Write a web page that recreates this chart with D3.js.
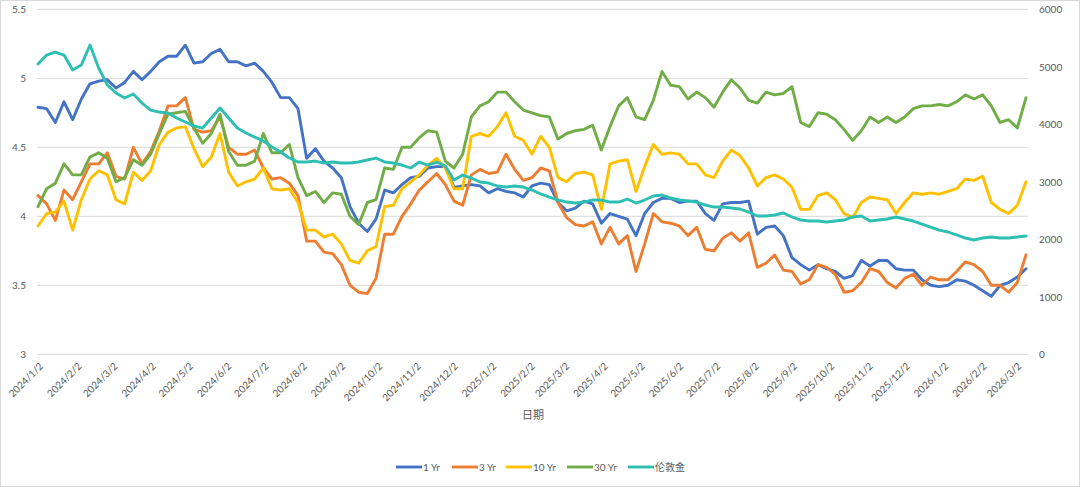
<!DOCTYPE html>
<html><head><meta charset="utf-8">
<script src="https://cdn.jsdelivr.net/npm/d3@7"></script>
<style>
body{margin:0;background:#fff}
svg{display:block}
text{font-family:Lato,"Noto Sans CJK SC",sans-serif;fill:#595959}
</style>
</head><body>
<svg id="c" width="1080" height="487"></svg>
<script>
// ---- data (weekly readings starting 2024-01-02) ----
const startDate = "2024-01-02";
const xTickLabels = ["2024/1/2","2024/2/2","2024/3/2","2024/4/2","2024/5/2","2024/6/2","2024/7/2","2024/8/2","2024/9/2","2024/10/2","2024/11/2","2024/12/2","2025/1/2","2025/2/2","2025/3/2","2025/4/2","2025/5/2","2025/6/2","2025/7/2","2025/8/2","2025/9/2","2025/10/2","2025/11/2","2025/12/2","2026/1/2","2026/2/2","2026/3/2"];
const leftTicks = [3,3.5,4,4.5,5,5.5];
const rightTicks = [0,1000,2000,3000,4000,5000,6000];
const seriesNames = ["1 Yr","3 Yr","10 Yr","30 Yr","伦敦金"];
const seriesColors = ["#4472C4","#ED7D31","#FFC000","#70AD47","#2EBFB3"];
const axisTitle = "日期";

const yr1 = [4.79,4.78,4.68,4.83,4.70,4.85,4.96,4.98,4.99,4.93, 4.97,5.05,4.99,5.05,5.12,5.16,5.16,5.24,5.11,5.12, 5.18,5.21,5.12,5.12,5.09,5.11,5.05,4.97,4.86,4.86, 4.78,4.42,4.49,4.40,4.35,4.28,4.07,3.95,3.89,3.98, 4.19,4.17,4.23,4.28,4.29,4.35,4.36,4.36,4.21,4.22, 4.23,4.22,4.17,4.20,4.18,4.17,4.14,4.22,4.24,4.23, 4.10,4.04,4.06,4.11,4.09,3.95,4.02,4.00,3.98,3.86, 4.02,4.10,4.13,4.13,4.10,4.11,4.11,4.02,3.97,4.09, 4.10,4.10,4.11,3.87,3.92,3.93,3.86,3.70,3.65,3.61, 3.65,3.62,3.60,3.55,3.57,3.68,3.64,3.68,3.68,3.62, 3.61,3.61,3.54,3.50,3.49,3.50,3.54,3.53,3.50,3.46, 3.42,3.50,3.52,3.56,3.62];
const yr3 = [4.15,4.09,3.97,4.19,4.12,4.25,4.38,4.38,4.46,4.29, 4.27,4.50,4.38,4.47,4.62,4.80,4.80,4.86,4.63,4.61, 4.62,4.72,4.50,4.45,4.45,4.48,4.35,4.27,4.28,4.24, 4.15,3.82,3.82,3.74,3.73,3.65,3.50,3.45,3.44,3.55, 3.87,3.87,4.00,4.09,4.19,4.25,4.31,4.23,4.11,4.08, 4.30,4.34,4.31,4.32,4.45,4.34,4.26,4.28,4.35,4.33, 4.10,3.99,3.94,3.93,3.96,3.80,3.92,3.80,3.86,3.60, 3.80,4.02,3.96,3.95,3.93,3.86,3.92,3.76,3.75,3.84, 3.88,3.82,3.88,3.63,3.66,3.72,3.61,3.60,3.51,3.54, 3.65,3.63,3.58,3.45,3.46,3.52,3.62,3.60,3.52,3.48, 3.55,3.58,3.50,3.56,3.54,3.54,3.60,3.67,3.65,3.60, 3.50,3.50,3.45,3.52,3.72];
const yr10 = [3.93,4.02,4.03,4.11,3.90,4.12,4.27,4.33,4.30,4.12, 4.09,4.32,4.26,4.33,4.52,4.61,4.64,4.65,4.49,4.36, 4.43,4.60,4.32,4.22,4.25,4.27,4.35,4.20,4.19,4.20, 4.10,3.90,3.90,3.85,3.87,3.80,3.68,3.66,3.75,3.78, 4.07,4.08,4.20,4.25,4.30,4.37,4.42,4.35,4.20,4.20, 4.58,4.60,4.58,4.65,4.75,4.58,4.55,4.45,4.58,4.50, 4.28,4.25,4.31,4.32,4.30,4.05,4.38,4.40,4.41,4.18, 4.36,4.52,4.45,4.46,4.45,4.38,4.38,4.30,4.28,4.40, 4.48,4.44,4.35,4.22,4.28,4.30,4.27,4.21,4.05,4.05, 4.15,4.17,4.12,4.02,3.99,4.10,4.14,4.13,4.12,4.02, 4.10,4.17,4.16,4.17,4.16,4.18,4.20,4.27,4.26,4.29, 4.10,4.05,4.02,4.08,4.25];
const yr30 = [4.07,4.20,4.24,4.38,4.30,4.30,4.43,4.46,4.42,4.25, 4.28,4.41,4.37,4.45,4.60,4.74,4.75,4.76,4.64,4.53, 4.60,4.74,4.47,4.37,4.37,4.40,4.60,4.46,4.46,4.52, 4.28,4.15,4.18,4.10,4.17,4.16,4.00,3.94,4.10,4.12, 4.35,4.34,4.50,4.50,4.57,4.62,4.61,4.40,4.35,4.45, 4.72,4.80,4.83,4.90,4.90,4.83,4.77,4.75,4.73,4.72, 4.56,4.60,4.62,4.63,4.66,4.48,4.65,4.80,4.86,4.72, 4.70,4.84,5.05,4.95,4.94,4.85,4.90,4.86,4.79,4.90, 4.99,4.93,4.84,4.82,4.90,4.88,4.89,4.94,4.68,4.65, 4.75,4.74,4.70,4.63,4.55,4.62,4.72,4.68,4.72,4.68, 4.72,4.78,4.80,4.80,4.81,4.80,4.83,4.88,4.85,4.88, 4.80,4.68,4.70,4.64,4.86];
const gold = [5048,5205,5257,5205,4944,5031,5379,4979,4683,4544, 4457,4527,4370,4248,4213,4196,4109,4039,3970,3935, 4109,4283,4109,3935,3848,3778,3709,3605,3518,3413, 3344,3344,3361,3326,3344,3326,3326,3344,3379,3413, 3344,3326,3292,3240,3344,3292,3344,3274,3031,3118, 3066,2996,2979,2927,2909,2927,2909,2857,2788,2735, 2683,2648,2631,2648,2683,2683,2648,2648,2700,2631, 2683,2753,2770,2718,2683,2666,2648,2596,2561,2561, 2544,2527,2474,2405,2405,2422,2457,2388,2335,2318, 2318,2300,2318,2335,2388,2405,2318,2335,2353,2388, 2353,2318,2266,2213,2161,2127,2075,2022,1988,2022, 2040,2022,2022,2040,2057];

// ---- chart ----
const W = 1080, H = 487;
const svg = d3.select("#c");
svg.append("rect").attr("x",0.5).attr("y",0.5).attr("width",W-1).attr("height",H-1)
  .attr("fill","#fff").attr("stroke","#d9d9d9");

const parse = d3.timeParse("%Y-%m-%d");
const t0 = parse(startDate);
const dates = yr1.map((_, i) => d3.timeDay.offset(t0, 7 * i));
const plot = {left: 37, right: 1028, top: 9.3, bottom: 354.3};

const x = d3.scaleTime().domain([t0, dates[dates.length-1]]).range([38, 1026]);
const yL = d3.scaleLinear().domain([3, 5.5]).range([plot.bottom, plot.top]);
const yR = d3.scaleLinear().domain([0, 6000]).range([plot.bottom, plot.top]);

// gridlines
svg.append("g").selectAll("line").data(leftTicks).join("line")
  .attr("x1", plot.left).attr("x2", plot.right)
  .attr("y1", d => yL(d)).attr("y2", d => yL(d))
  .attr("stroke", "#d9d9d9").attr("stroke-width", 1);

// left axis
const gL = svg.append("g").attr("transform", `translate(${plot.left},0)`)
  .call(d3.axisLeft(yL).tickValues(leftTicks).tickSize(0).tickPadding(11).tickFormat(d3.format("")));
gL.select(".domain").remove();
gL.selectAll("text").attr("font-size", 10).style("font-family", "Lato, sans-serif").attr("fill", "#595959");

// right axis
const gR = svg.append("g").attr("transform", `translate(${plot.right},0)`)
  .call(d3.axisRight(yR).tickValues(rightTicks).tickSize(0).tickPadding(11).tickFormat(d3.format("d")));
gR.select(".domain").remove();
gR.selectAll("text").attr("font-size", 10).style("font-family", "Lato, sans-serif").attr("fill", "#595959");

// bottom axis
const tickDates = xTickLabels.map(s => d3.timeParse("%Y/%m/%d")(s));
const gB = svg.append("g").attr("transform", `translate(0,${plot.bottom})`)
  .call(d3.axisBottom(x).tickValues(tickDates).tickSize(0).tickFormat((d, i) => xTickLabels[i]));
gB.select(".domain").remove();
gB.selectAll("text")
  .attr("font-size", 10).style("font-family", "Lato, sans-serif").attr("fill", "#595959")
  .attr("text-anchor", "end")
  .attr("transform", "translate(3,10) rotate(-45)")
  .attr("x", 0).attr("y", 0).attr("dy", "0.35em");

// axis title
svg.append("text").attr("x", 533).attr("y", 419).attr("text-anchor", "middle")
  .attr("font-size", 11).style("font-family", "'Noto Sans CJK SC', sans-serif").text(axisTitle);

// lines
const leftSeries = [yr1, yr3, yr10, yr30];
const lineL = d3.line().x((d, i) => x(dates[i])).y(d => yL(d));
const lineR = d3.line().x((d, i) => x(dates[i])).y(d => yR(d));
leftSeries.forEach((s, k) => {
  svg.append("path").datum(s).attr("d", lineL)
    .attr("fill", "none").attr("stroke", seriesColors[k]).attr("stroke-width", 2.9)
    .attr("stroke-linejoin", "round").attr("stroke-linecap", "round");
});
svg.append("path").datum(gold).attr("d", lineR)
  .attr("fill", "none").attr("stroke", seriesColors[4]).attr("stroke-width", 2.9)
  .attr("stroke-linejoin", "round").attr("stroke-linecap", "round");

// legend
const legendX = [396, 452, 506, 567, 628];
const lg = svg.append("g");
seriesNames.forEach((n, i) => {
  const gx = legendX[i];
  lg.append("line").attr("x1", gx).attr("x2", gx + 26).attr("y1", 467).attr("y2", 467)
    .attr("stroke", seriesColors[i]).attr("stroke-width", 2.9);
  lg.append("text").attr("x", gx + 27).attr("y", 467).attr("dy", "0.35em")
    .attr("font-size", 10).style("font-family", "Lato, 'Noto Sans CJK SC', sans-serif").text(n);
});
</script>
</body></html>
